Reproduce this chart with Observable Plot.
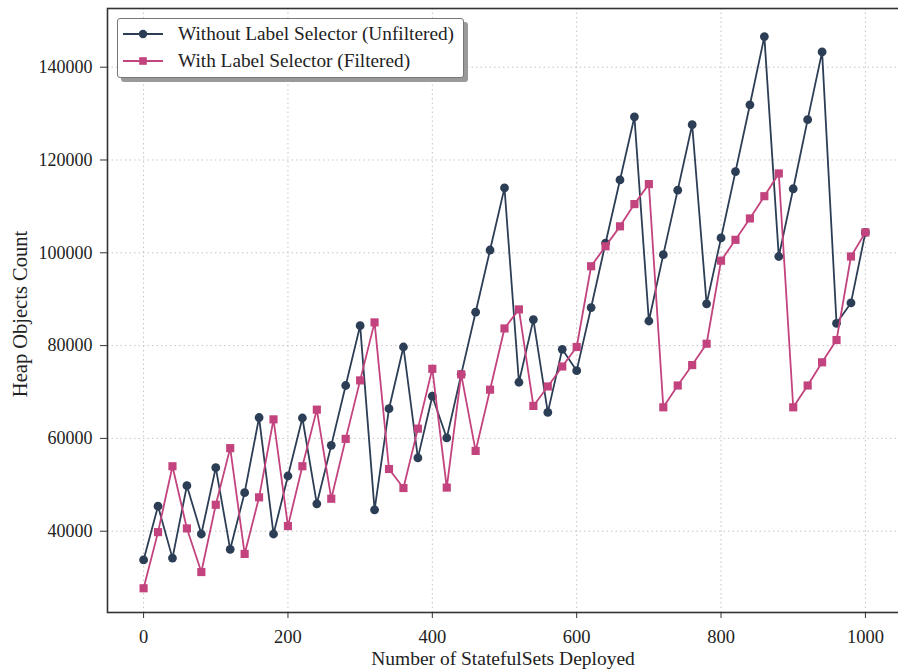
<!DOCTYPE html>
<html>
<head>
<meta charset="utf-8">
<script src="https://cdn.jsdelivr.net/npm/d3@7"></script>
<script src="https://cdn.jsdelivr.net/npm/@observablehq/plot@0.6"></script>
<style>
  html, body { margin: 0; padding: 0; background: #fff; overflow: hidden; }
  #wrap { position: relative; width: 898px; height: 671px; overflow: hidden; font-family: "Liberation Serif", "Times New Roman", serif; color: #222; }
  #wrap svg.plotsvg { position: absolute; left: 0; top: 0; }
  .legend { position: absolute; left: 117px; top: 18px; width: 345px; height: 58px; background: #fff; border: 1.3px solid #777; border-radius: 3px; box-shadow: 4px 4px 0 #9a9a9a; }
  .legend .row { position: absolute; left: 0; height: 22px; display: flex; align-items: center; font-size: 19.3px; white-space: nowrap; line-height: 22px; }
  .legend .row svg { display: block; margin-left: 5px; margin-right: 15px; }
  .xlabel { position: absolute; left: 103px; width: 800px; top: 647px; text-align: center; font-size: 19.5px; line-height: 24px; }
  .ylabel { position: absolute; left: 20px; top: 314px; transform: translate(-50%, -50%) rotate(-90deg); font-size: 20.5px; white-space: nowrap; line-height: 24px; }
</style>
</head>
<body>
<div id="wrap"></div>
<script>
const xValues = [0,20,40,60,80,100,120,140,160,180,200,220,240,260,280,300,320,340,360,380,400,420,440,460,480,500,520,540,560,580,600,620,640,660,680,700,720,740,760,780,800,820,840,860,880,900,920,940,960,980,1000];
const unfiltered = [33800,45400,34200,49800,39400,53700,36100,48300,64500,39400,51900,64400,45900,58500,71400,84300,44600,66400,79700,55800,69100,60100,73800,87200,100600,114000,72100,85600,65600,79200,74600,88200,102100,115700,129300,85300,99600,113500,127600,89000,103200,117500,131900,146600,99200,113800,128700,143300,84800,89200,104400];
const filtered = [27700,39800,54000,40600,31200,45700,57900,35100,47300,64100,41100,54000,66200,47000,59900,72500,85000,53400,49300,62100,75000,49400,73800,57300,70500,83700,87800,67000,71200,75500,79700,97100,101400,105700,110500,114800,66700,71400,75800,80400,98300,102800,107400,112200,117100,66700,71400,76400,81200,99200,104400];
const xTicks = [0,200,400,600,800,1000];
const yTicks = [40000,60000,80000,100000,120000,140000];
const seriesNames = ["Without Label Selector (Unfiltered)", "With Label Selector (Filtered)"];
const xLabel = "Number of StatefulSets Deployed";
const yLabel = "Heap Objects Count";
const colors = ["#2c3e55", "#c2437d"];

const dataU = xValues.map((x, i) => ({x, y: unfiltered[i]}));
const dataF = xValues.map((x, i) => ({x, y: filtered[i]}));

const chart = Plot.plot({
  width: 898,
  height: 671,
  marginLeft: 107,
  marginRight: -3,
  marginTop: 8,
  marginBottom: 59,
  style: {fontFamily: "'Liberation Serif', 'Times New Roman', serif", fontSize: "18px", color: "#222", background: "transparent", overflow: "visible"},
  x: {domain: [-50, 1050]},
  y: {domain: [22480, 152650]},
  marks: [
    Plot.gridX(xTicks, {stroke: "#c4c4c4", strokeOpacity: 1, strokeWidth: 1, strokeDasharray: "1.5,3"}),
    Plot.gridY(yTicks, {stroke: "#c4c4c4", strokeOpacity: 1, strokeWidth: 1, strokeDasharray: "1.5,3"}),
    Plot.axisX(xTicks, {tickSize: 6, tickPadding: 11, fontSize: 18.5, label: null, tickFormat: d => String(d), stroke: "#333", color: "#222"}),
    Plot.axisY(yTicks, {tickSize: 7, tickPadding: 8, fontSize: 18, label: null, tickFormat: d => String(d), stroke: "#333", color: "#222"}),
    Plot.line(dataU, {x: "x", y: "y", stroke: colors[0], strokeWidth: 1.8}),
    Plot.dot(dataU, {x: "x", y: "y", r: 4.4, fill: colors[0], stroke: "none"}),
    Plot.line(dataF, {x: "x", y: "y", stroke: colors[1], strokeWidth: 1.8}),
    Plot.dot(dataF, {x: "x", y: "y", symbol: "square", r: 4.6, fill: colors[1], stroke: "none"}),
    Plot.frame({stroke: "#333", strokeWidth: 1.6})
  ]
});
chart.classList.add("plotsvg");
const wrap = document.getElementById("wrap");
wrap.appendChild(chart);

const legend = document.createElement("div");
legend.className = "legend";
const markers = ["circle", "square"];
seriesNames.forEach((name, i) => {
  const row = document.createElement("div");
  row.className = "row";
  row.style.top = (i === 0 ? 3.5 : 30.5) + "px";
  const ns = "http://www.w3.org/2000/svg";
  const s = document.createElementNS(ns, "svg");
  s.setAttribute("width", 40); s.setAttribute("height", 14);
  const ln = document.createElementNS(ns, "line");
  ln.setAttribute("x1", 0); ln.setAttribute("x2", 40); ln.setAttribute("y1", 7); ln.setAttribute("y2", 7);
  ln.setAttribute("stroke", colors[i]); ln.setAttribute("stroke-width", 1.8);
  s.appendChild(ln);
  if (markers[i] === "circle") {
    const c = document.createElementNS(ns, "circle");
    c.setAttribute("cx", 20); c.setAttribute("cy", 7); c.setAttribute("r", 4.2); c.setAttribute("fill", colors[i]);
    s.appendChild(c);
  } else {
    const r = document.createElementNS(ns, "rect");
    r.setAttribute("x", 16.2); r.setAttribute("y", 3.2); r.setAttribute("width", 7.6); r.setAttribute("height", 7.6); r.setAttribute("fill", colors[i]);
    s.appendChild(r);
  }
  row.appendChild(s);
  const t = document.createElement("span");
  t.textContent = name;
  row.appendChild(t);
  legend.appendChild(row);
});
wrap.appendChild(legend);

const xl = document.createElement("div");
xl.className = "xlabel"; xl.textContent = xLabel; wrap.appendChild(xl);
const yl = document.createElement("div");
yl.className = "ylabel"; yl.textContent = yLabel; wrap.appendChild(yl);
</script>
</body>
</html>
